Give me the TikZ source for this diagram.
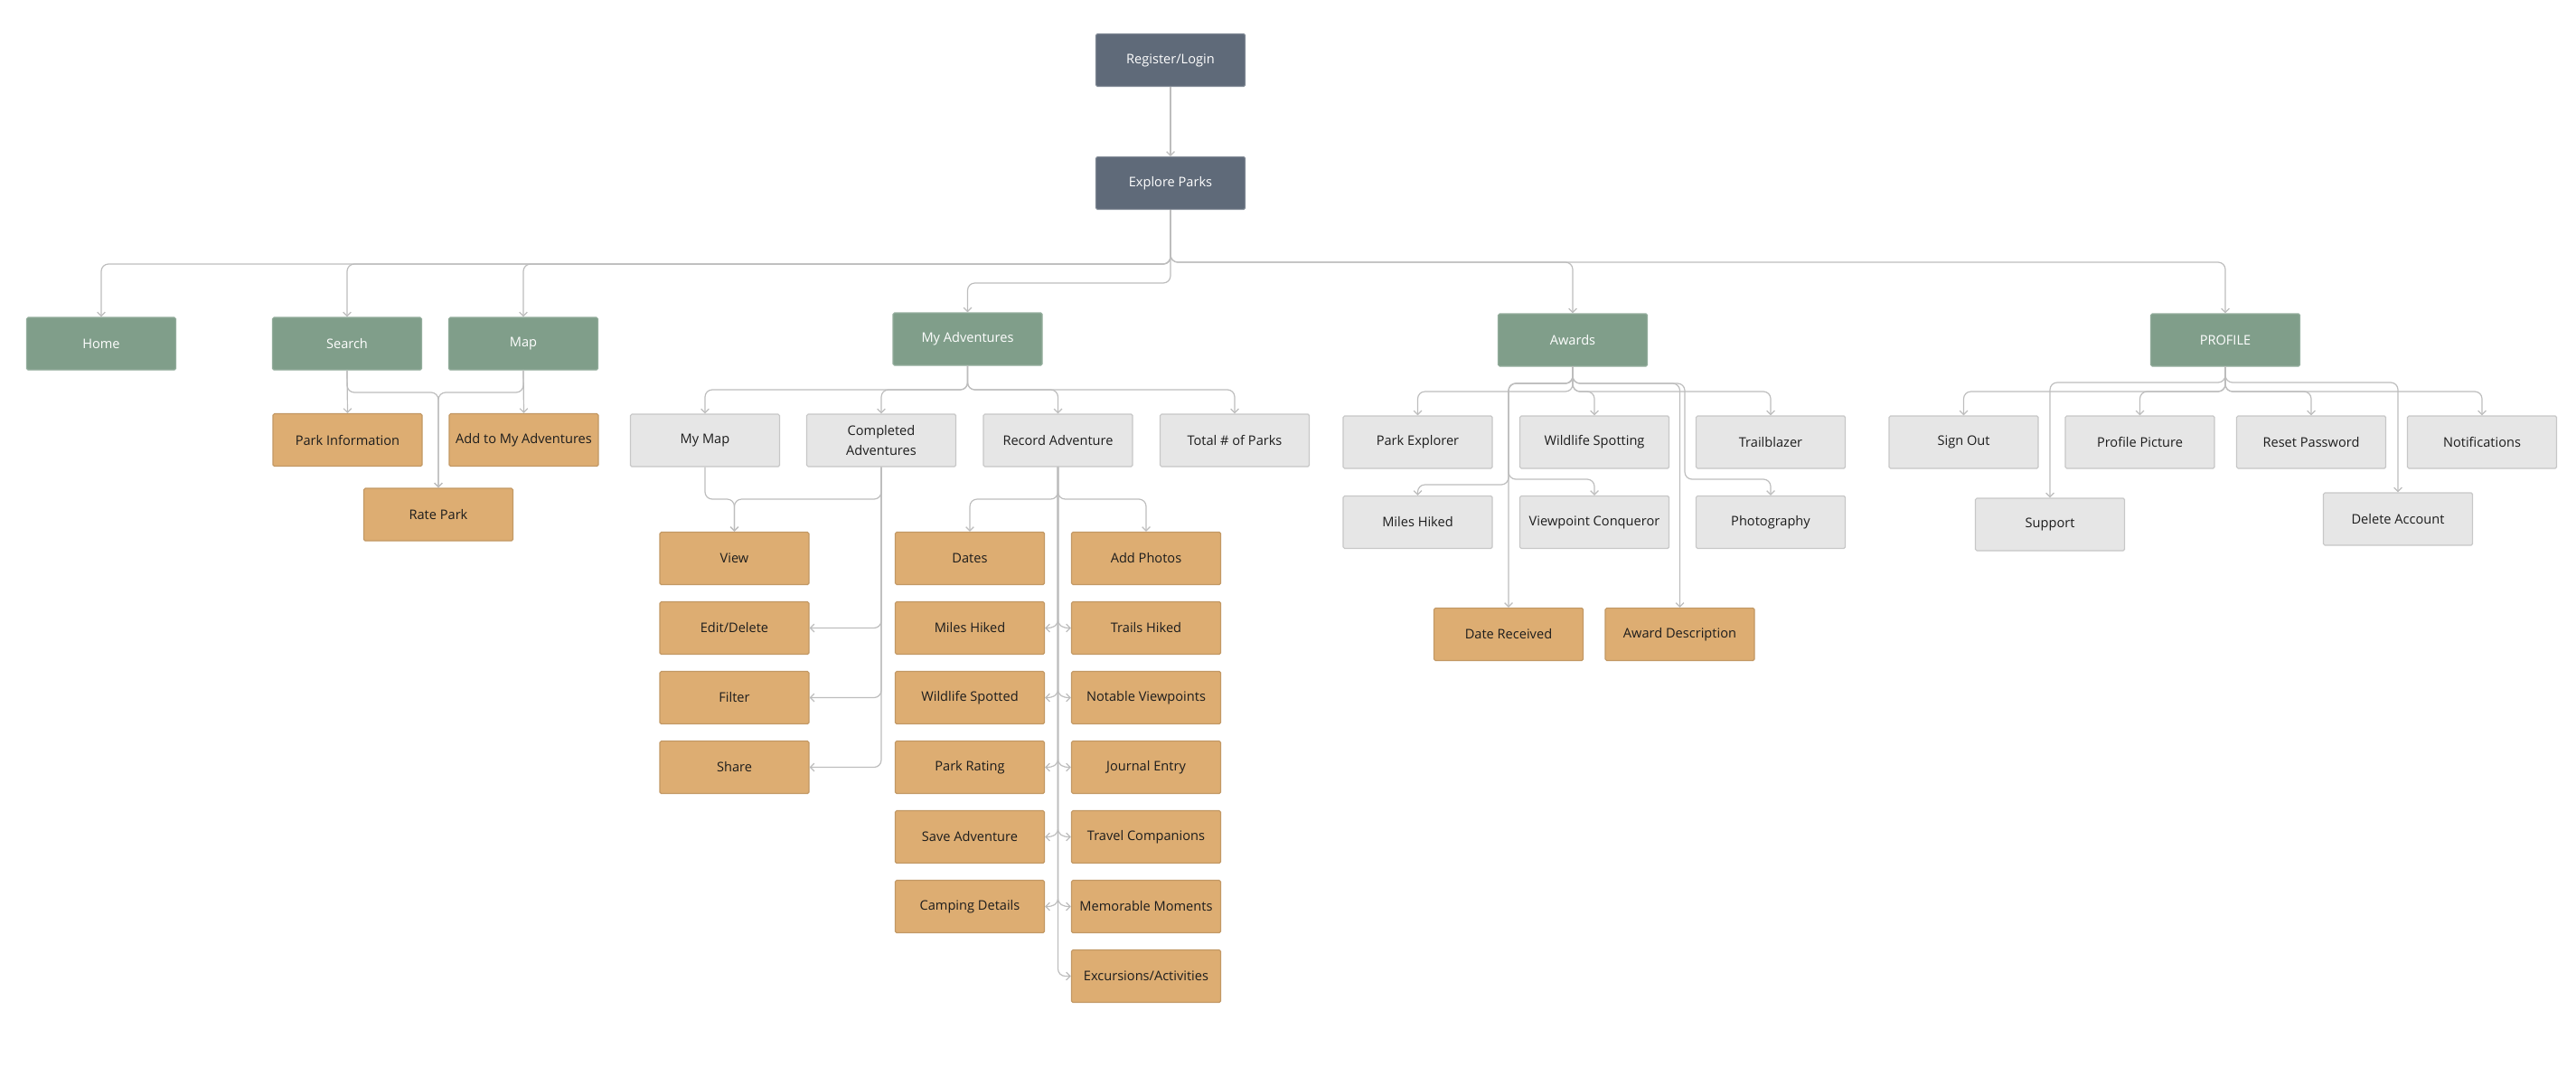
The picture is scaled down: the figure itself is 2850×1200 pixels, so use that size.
\documentclass[tikz,border=0pt]{standalone}
\usepackage{fontspec}
\setmainfont{Open Sans}
\usetikzlibrary{arrows.meta}
\definecolor{darkbox}{HTML}{5F6A79}
\definecolor{greenbox}{HTML}{809E8A}
\definecolor{orangebox}{HTML}{DDAD72}
\definecolor{graybox}{HTML}{E6E6E6}
\definecolor{linec}{HTML}{BDBDBD}
\definecolor{txt}{HTML}{1C1C1C}
\tikzset{
  box/.style={draw, line width=0.6pt, rounded corners=0.8pt, minimum width=82.5pt, minimum height=29pt, inner sep=0pt, align=center, font=\fontsize{7.3}{11}\selectfont},
  darkn/.style={box, fill=darkbox, draw=darkbox!80!white, text=white},
  greenn/.style={box, fill=greenbox, draw=greenbox!85!white, text=white},
  orangen/.style={box, fill=orangebox, draw=orangebox!88!black, text=txt},
  grayn/.style={box, fill=graybox, draw=black!22, text=txt},
  conn/.style={draw=linec, line width=0.6pt, rounded corners=4pt, -{Straight Barb[length=2.2pt,width=4.4pt]}}
}
\begin{document}
\begin{tikzpicture}[x=0.5pt,y=-0.5pt]
\useasboundingbox (0,0) rectangle (2850,1200);
% top
\node[darkn] (reg) at (1295,66.5) {Register/Login};
\node[darkn] (ep) at (1295,202.5) {Explore Parks};
% level 2
\node[greenn] (home) at (112,380) {Home};
\node[greenn] (search) at (384,380) {Search};
\node[greenn] (map) at (579,380) {Map};
\node[greenn] (myadv) at (1070.5,375) {My Adventures};
\node[greenn] (awards) at (1740,376) {Awards};
\node[greenn] (profile) at (2462,376) {PROFILE};
% search/map children
\node[orangen] (parkinfo) at (384.5,486.5) {Park Information};
\node[orangen] (addto) at (579.5,486.5) {Add to My Adventures};
\node[orangen] (ratepark) at (485,569) {Rate Park};
% my adventures children
\node[grayn] (mymap) at (780,487) {My Map};
\node[grayn] (completed) at (975,487) {Completed\\Adventures};
\node[grayn] (record) at (1170.5,487) {Record Adventure};
\node[grayn] (total) at (1366,487) {Total \# of Parks};
% completed column
\node[orangen] (view) at (812.5,617.5) {View};
\node[orangen] (edit) at (812.5,694.5) {Edit/Delete};
\node[orangen] (filter) at (812.5,771.5) {Filter};
\node[orangen] (share) at (812.5,848.5) {Share};
% record columns
\node[orangen] (dates) at (1073,617.5) {Dates};
\node[orangen] (miles) at (1073,694.5) {Miles Hiked};
\node[orangen] (wildlife) at (1073,771.5) {Wildlife Spotted};
\node[orangen] (rating) at (1073,848.5) {Park Rating};
\node[orangen] (save) at (1073,925.5) {Save Adventure};
\node[orangen] (camping) at (1073,1002.5) {Camping Details};
\node[orangen] (photos) at (1268,617.5) {Add Photos};
\node[orangen] (trails) at (1268,694.5) {Trails Hiked};
\node[orangen] (notable) at (1268,771.5) {Notable Viewpoints};
\node[orangen] (journal) at (1268,848.5) {Journal Entry};
\node[orangen] (travel) at (1268,925.5) {Travel Companions};
\node[orangen] (memorable) at (1268,1002.5) {Memorable Moments};
\node[orangen] (excursions) at (1268,1079.5) {Excursions/Activities};
% awards children
\node[grayn] (parkexp) at (1568.5,489) {Park Explorer};
\node[grayn] (wildspot) at (1764,489) {Wildlife Spotting};
\node[grayn] (trailblazer) at (1959,489) {Trailblazer};
\node[grayn] (milesA) at (1568.5,577.5) {Miles Hiked};
\node[grayn] (viewpoint) at (1764,577.5) {Viewpoint Conqueror};
\node[grayn] (photography) at (1959,577.5) {Photography};
\node[orangen] (datereceived) at (1669,701.5) {Date Received};
\node[orangen] (awarddesc) at (1858.5,701.5) {Award Description};
% profile children
\node[grayn] (signout) at (2172.5,489) {Sign Out};
\node[grayn] (profpic) at (2367.5,489) {Profile Picture};
\node[grayn] (reset) at (2557,489) {Reset Password};
\node[grayn] (notif) at (2746,489) {Notifications};
\node[grayn] (support) at (2268,580) {Support};
\node[grayn] (deleteacc) at (2653,574) {Delete Account};

% ---------- connectors ----------
\draw[conn] (reg.south) -- (ep.north);
\foreach \t in {home,search,map}{
  \draw[conn] (ep.south) -- (ep.south |- 0,292) -| (\t.north);
}
\draw[conn] (ep.south) -- (ep.south |- 0,313) -| (myadv.north);
\foreach \t in {awards,profile}{
  \draw[conn] (ep.south) -- (ep.south |- 0,290) -| (\t.north);
}
% search / map
\draw[conn] (search.south) -- (parkinfo.north);
\draw[conn] (map.south) -- (addto.north);
\draw[conn] (search.south) -- (search.south |- 0,434) -| (ratepark.north);
\draw[conn] (map.south) -- (map.south |- 0,434) -| (ratepark.north);
% my adventures
\foreach \t in {mymap,completed,record,total}{
  \draw[conn] (myadv.south) -- (myadv.south |- 0,431) -| (\t.north);
}
\draw[conn] (mymap.south) -- (mymap.south |- 0,552) -| (view.north);
\draw[conn] (completed.south) -- (completed.south |- 0,552) -| (view.north);
\foreach \t in {edit,filter,share}{
  \draw[conn] (completed.south) |- (\t.east);
}
% record adventure
\draw[conn] (record.south) -- (record.south |- 0,552) -| (dates.north);
\draw[conn] (record.south) -- (record.south |- 0,552) -| (photos.north);
\foreach \l/\r/\y in {miles/trails/694.5, wildlife/notable/771.5, rating/journal/848.5, save/travel/925.5, camping/memorable/1002.5}{
  \draw[conn,rounded corners=0pt] (record.south) -- (1170.5,\y-10) .. controls (1170.5,\y-2) and (1165,\y) .. (\l.east);
  \draw[conn,rounded corners=0pt] (record.south) -- (1170.5,\y-10) .. controls (1170.5,\y-2) and (1176,\y) .. (\r.west);
}
\draw[conn] (record.south) |- (excursions.west);
% awards
\foreach \t in {parkexp,wildspot,trailblazer}{
  \draw[conn] (awards.south) -- (awards.south |- 0,433) -| (\t.north);
}
\draw[conn] (awards.south) -- (awards.south |- 0,424) -| (datereceived.north);
\draw[conn] (awards.south) -- (awards.south |- 0,424) -| (awarddesc.north);
\draw[conn] (awards.south) -- (awards.south |- 0,424) -- (1669,424) -- (1669,536) -| (milesA.north);
\draw[conn] (awards.south) -- (awards.south |- 0,424) -- (1669,424) -- (1669,530) -| (viewpoint.north);
\draw[conn] (awards.south) -- (awards.south |- 0,424) -- (1864,424) -- (1864,530) -| (photography.north);
% profile
\foreach \t in {signout,profpic,reset,notif}{
  \draw[conn] (profile.south) -- (profile.south |- 0,433) -| (\t.north);
}
\draw[conn] (profile.south) -- (profile.south |- 0,423) -| (support.north);
\draw[conn] (profile.south) -- (profile.south |- 0,423) -| (deleteacc.north);
\end{tikzpicture}
\end{document}
